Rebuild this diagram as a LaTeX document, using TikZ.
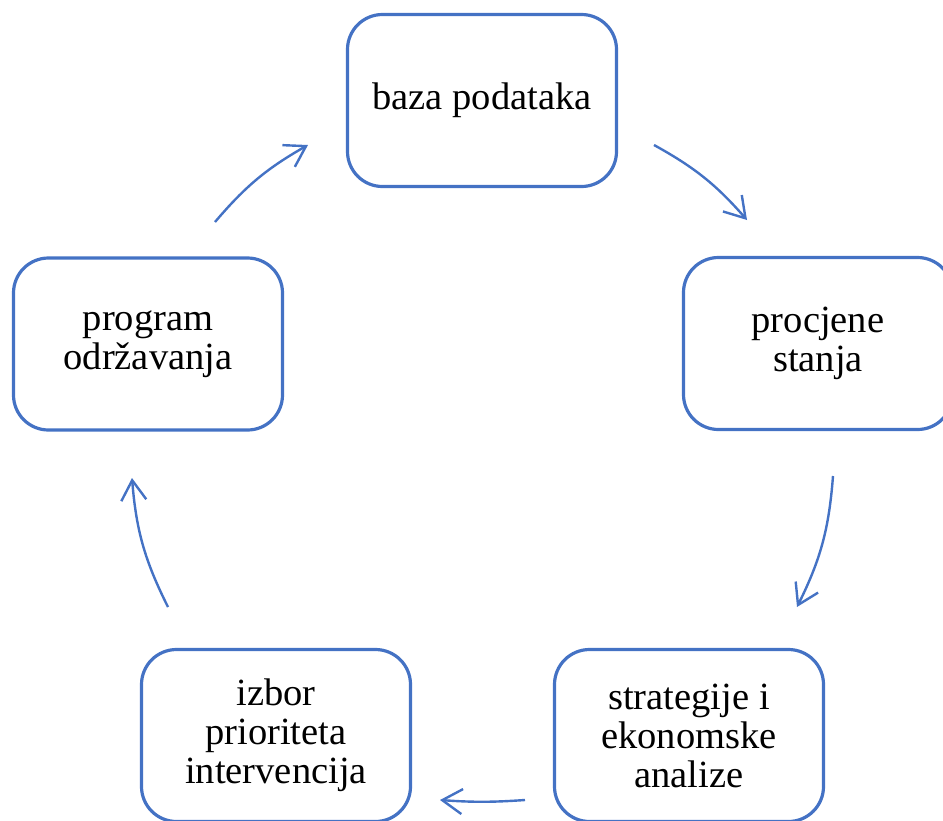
\documentclass[tikz,border=0pt]{standalone}
\usepackage{fontspec}
\setmainfont{Liberation Serif}
\usepackage{tikz}
\usetikzlibrary{arrows.meta}
\definecolor{wordblue}{HTML}{4472C4}

\begin{document}
\begin{tikzpicture}[x=1pt, y=1pt,
        stage/.style={draw=wordblue, line width=3.2pt, rounded corners=35pt,
                minimum width=269pt, minimum height=172pt, align=center,
                font=\fontsize{38.5}{39}\selectfont},
        cycle/.style={draw=wordblue, line width=2.4pt,
                -{Straight Barb[length=20pt, width=25pt, line width=2.4pt]}}]
        \useasboundingbox (0,0) rectangle (943,-820);
        % stages of the cycle
        \node (baza) [stage] at (482, -100.5) {baza podataka};
        \node (procjene) [stage] at (818, -343.5) {procjene\\stanja};
        \node (strategije) [stage] at (689, -735.5) {strategije i\\ekonomske\\analize};
        \node (izbor) [stage] at (276, -735.5) {izbor\\prioriteta\\intervencija};
        \node (program) [stage] at (148, -344) {program\\održavanja};
        % arrow ends
        \coordinate (a1) at (654, -145);
        \coordinate (b1) at (747, -220);
        \coordinate (a2) at (833, -476);
        \coordinate (b2) at (797, -607);
        \coordinate (a3) at (525, -800);
        \coordinate (b3) at (440, -800);
        \coordinate (a4) at (168, -607);
        \coordinate (b4) at (132, -478);
        \coordinate (a5) at (215, -222);
        \coordinate (b5) at (308, -145);
        \draw [cycle] (a1) to [bend left=10] (b1);
        \draw [cycle] (a2) to [bend left=11] (b2);
        \draw [cycle] (a3) to [bend left=4] (b3);
        \draw [cycle] (a4) to [bend left=11] (b4);
        \draw [cycle] (a5) to [bend left=10] (b5);
\end{tikzpicture}
\end{document}
